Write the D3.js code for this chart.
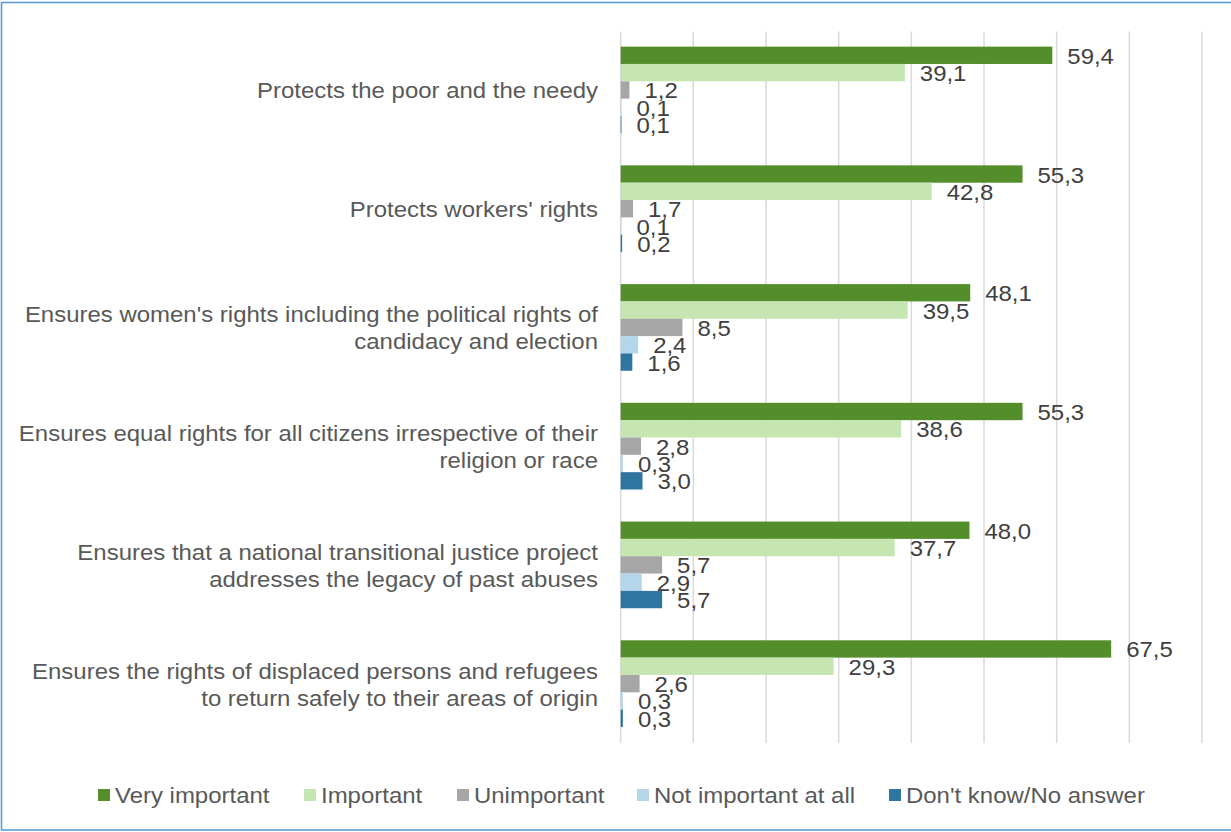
<!DOCTYPE html>
<html>
<head>
<meta charset="utf-8">
<script src="https://cdn.jsdelivr.net/npm/d3@7"></script>
<style>
  html, body { margin: 0; padding: 0; background: #fff; }
  svg { display: block; }
  text { font-family: Arial, "Liberation Sans", sans-serif; }
</style>
</head>
<body>
<svg id="chart" width="1231" height="832"></svg>
<script>
// Survey categories (line breaks mark where the label wraps)
const categories = [
  "Protects the poor and the needy",
  "Protects workers' rights",
  "Ensures women's rights including the political rights of\ncandidacy and election",
  "Ensures equal rights for all citizens irrespective of their\nreligion or race",
  "Ensures that a national transitional justice project\naddresses the legacy of past abuses",
  "Ensures the rights of displaced persons and refugees\nto return safely to their areas of origin"
];

const seriesNames = ["Very important", "Important", "Unimportant", "Not important at all", "Don't know/No answer"];
const seriesColors = ["#548E2B", "#C5E6B0", "#A6A6A6", "#B4D6EA", "#2E75A0"];

// Percentages per series, one value per category
const veryImportant   = [59.4, 55.3, 48.1, 55.3, 48.0, 67.5];
const important       = [39.1, 42.8, 39.5, 38.6, 37.7, 29.3];
const unimportant     = [1.2, 1.7, 8.5, 2.8, 5.7, 2.6];
const notImportantAll = [0.1, 0.1, 2.4, 0.3, 2.9, 0.3];
const dontKnow        = [0.1, 0.2, 1.6, 3.0, 5.7, 0.3];

const seriesValues = [veryImportant, important, unimportant, notImportantAll, dontKnow];
const xTicks = [0, 10, 20, 30, 40, 50, 60, 70, 80];

const svg = d3.select("#chart");
const W = 1231, H = 832;
const stretch = 1.065;

// Outer frame
svg.append("rect")
  .attr("x", 1.5).attr("y", 2.5)
  .attr("width", W + 4).attr("height", H - 4.5)
  .attr("fill", "#fff")
  .attr("stroke", "#5B9BD5").attr("stroke-width", 1.6);

const plot = { left: 620.7, right: 1202, top: 30.6, bottom: 743 };

const x = d3.scaleLinear().domain([0, 80]).range([plot.left, plot.right]);
const y = d3.scaleBand().domain(categories).range([plot.top, plot.bottom]).paddingInner(0.27).paddingOuter(0.135);
const yInner = d3.scaleBand().domain(seriesNames).range([0, y.bandwidth()]);

// Vertical gridlines
svg.append("g")
  .selectAll("line")
  .data(xTicks)
  .join("line")
  .attr("x1", d => x(d)).attr("x2", d => x(d))
  .attr("y1", plot.top + 1).attr("y2", plot.bottom)
  .attr("stroke", "#D9D9D9").attr("stroke-width", 1.5);

// Flatten into one record per bar
const records = [];
categories.forEach((c, ci) => {
  seriesNames.forEach((s, si) => {
    records.push({ cat: c, series: s, si, value: seriesValues[si][ci] });
  });
});

const bars = svg.append("g");
bars.selectAll("rect")
  .data(records)
  .join("rect")
  .attr("x", x(0))
  .attr("y", d => y(d.cat) + yInner(d.series))
  .attr("width", d => x(d.value) - x(0))
  .attr("height", yInner.bandwidth())
  .attr("fill", d => seriesColors[d.si]);

// Value labels after each bar, decimal comma
const fmt = v => v.toFixed(1).replace(".", ",");
bars.selectAll("text")
  .data(records)
  .join("text")
  .attr("transform", d => `translate(${x(d.value) + 15},${y(d.cat) + yInner(d.series) + yInner.bandwidth() / 2 + 8.5}) scale(${stretch},1)`)
  .attr("font-size", 22.5)
  .attr("fill", "#404040")
  .text(d => fmt(d.value));

// Category labels, right aligned and wrapped
const catG = svg.append("g");
categories.forEach(c => {
  const lines = c.split("\n");
  const cy = y(c) + y.bandwidth() / 2;
  const lh = 27;
  lines.forEach((ln, i) => {
    const ty = cy + (i - (lines.length - 1) / 2) * lh + 8.5;
    catG.append("text")
      .attr("transform", `translate(598,${ty}) scale(${stretch},1)`)
      .attr("text-anchor", "end")
      .attr("font-size", 22.5)
      .attr("fill", "#595959")
      .text(ln);
  });
});

// Legend
const legendX = [98, 304, 457, 637, 889];
const legend = svg.append("g");
seriesNames.forEach((s, i) => {
  legend.append("rect")
    .attr("x", legendX[i]).attr("y", 789)
    .attr("width", 12).attr("height", 12)
    .attr("fill", seriesColors[i]);
  legend.append("text")
    .attr("transform", `translate(${legendX[i] + 17},803) scale(${stretch},1)`)
    .attr("font-size", 22.5)
    .attr("fill", "#595959")
    .text(s);
});
</script>
</body>
</html>
